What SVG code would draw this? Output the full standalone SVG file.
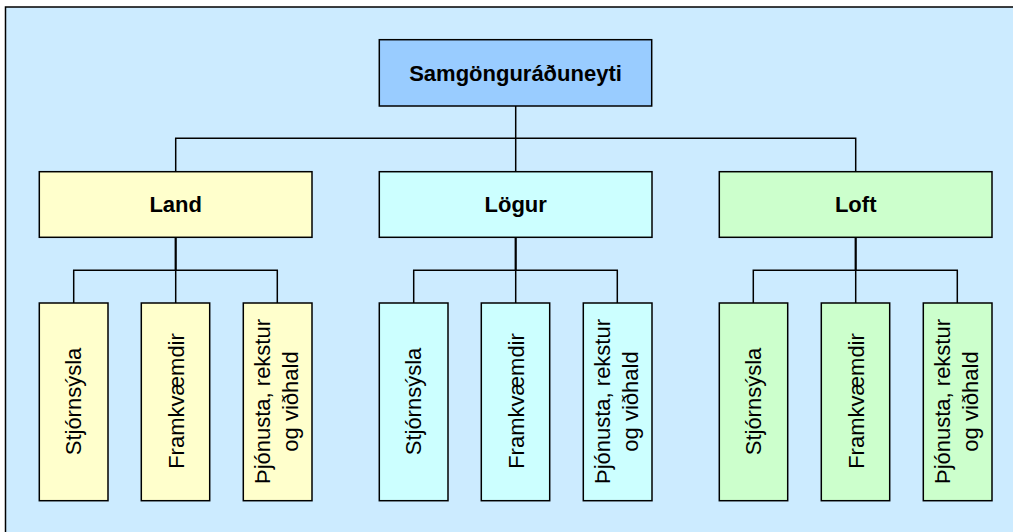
<svg xmlns="http://www.w3.org/2000/svg" width="1013" height="532" viewBox="0 0 1013 532">
  <style>
    .frame { fill: #CCEBFF; stroke: #000; stroke-width: 1.5; }
    .box { stroke: #000; stroke-width: 1.5; }
    .top { fill: #99CCFF; }
    .land { fill: #FFFFCC; }
    .logur { fill: #CCFFFF; }
    .loft { fill: #CCFFCC; }
    .title { font-family: "Liberation Sans", Arial, sans-serif; font-weight: bold; font-size: 22px; fill: #000; text-anchor: middle; }
    .leaf { font-family: "Liberation Sans", Arial, sans-serif; font-size: 22px; fill: #000; text-anchor: middle; }
    .wire { fill: none; stroke: #000; stroke-width: 1.5; }
    .trunk { fill: none; stroke: #000; stroke-width: 2.2; }
  </style>

  <rect width="1013" height="532" fill="#FFFFFF"/>
  <!-- background panel, open to the right and bottom -->
  <rect class="frame" x="5.5" y="7" width="1020" height="540"/>

  <g id="connectors">
    <path class="wire" d="M515.7 106 V138.3 M175.7 171.7 V138.3 H855.7 V171.7 M515.7 138.3 V171.7"/>
    <path class="trunk" d="M175.7 237.3 V270.3 M515.7 237.3 V270.3 M855.7 237.3 V270.3"/>
    <path class="wire" d="M73.7 303 V270.3 H277.3 V303 M175.7 270.3 V303"/>
    <path class="wire" d="M413.7 303 V270.3 H617.3 V303 M515.7 270.3 V303"/>
    <path class="wire" d="M753.3 303 V270.3 H957.3 V303 M855.7 270.3 V303"/>
  </g>

  <g id="node-samgonguraduneyti">
    <rect class="box top" x="379.3" y="39.7" width="272.4" height="66.3"/>
    <text class="title" x="515.5" y="81">Samgönguráðuneyti</text>
  </g>

  <g id="node-land">
    <rect class="box land" x="39.3" y="171.7" width="272.7" height="65.6"/>
    <text class="title" x="175.7" y="212">Land</text>
  </g>
  <g id="node-logur">
    <rect class="box logur" x="379.3" y="171.7" width="272.7" height="65.6"/>
    <text class="title" x="515.7" y="212">Lögur</text>
  </g>
  <g id="node-loft">
    <rect class="box loft" x="719.3" y="171.7" width="272.7" height="65.6"/>
    <text class="title" x="855.7" y="212">Loft</text>
  </g>

  <!-- Land children -->
  <g id="node-land-stjornsysla">
    <rect class="box land" x="39.3" y="303" width="68.7" height="197.7"/>
    <text class="leaf" transform="translate(80.5 401.5) rotate(-90)">Stjórnsýsla</text>
  </g>
  <g id="node-land-framkvaemdir">
    <rect class="box land" x="141.3" y="303" width="68.4" height="197.7"/>
    <text class="leaf" transform="translate(183.5 401) rotate(-90)">Framkvæmdir</text>
  </g>
  <g id="node-land-thjonusta">
    <rect class="box land" x="243.3" y="303" width="68.7" height="197.7"/>
    <text class="leaf" transform="translate(270 401.5) rotate(-90)">Þjónusta, rekstur</text>
    <text class="leaf" transform="translate(298 401.5) rotate(-90)">og viðhald</text>
  </g>

  <!-- Lögur children -->
  <g id="node-logur-stjornsysla">
    <rect class="box logur" x="379.3" y="303" width="68.7" height="197.7"/>
    <text class="leaf" transform="translate(420.5 401.5) rotate(-90)">Stjórnsýsla</text>
  </g>
  <g id="node-logur-framkvaemdir">
    <rect class="box logur" x="481.3" y="303" width="68.4" height="197.7"/>
    <text class="leaf" transform="translate(523.5 401) rotate(-90)">Framkvæmdir</text>
  </g>
  <g id="node-logur-thjonusta">
    <rect class="box logur" x="583.3" y="303" width="68.7" height="197.7"/>
    <text class="leaf" transform="translate(610 401.5) rotate(-90)">Þjónusta, rekstur</text>
    <text class="leaf" transform="translate(638 401.5) rotate(-90)">og viðhald</text>
  </g>

  <!-- Loft children -->
  <g id="node-loft-stjornsysla">
    <rect class="box loft" x="719.3" y="303" width="68.4" height="197.7"/>
    <text class="leaf" transform="translate(760.5 401.5) rotate(-90)">Stjórnsýsla</text>
  </g>
  <g id="node-loft-framkvaemdir">
    <rect class="box loft" x="821.3" y="303" width="68.4" height="197.7"/>
    <text class="leaf" transform="translate(863.5 401) rotate(-90)">Framkvæmdir</text>
  </g>
  <g id="node-loft-thjonusta">
    <rect class="box loft" x="923.3" y="303" width="68.7" height="197.7"/>
    <text class="leaf" transform="translate(950 401.5) rotate(-90)">Þjónusta, rekstur</text>
    <text class="leaf" transform="translate(978 401.5) rotate(-90)">og viðhald</text>
  </g>
</svg>
